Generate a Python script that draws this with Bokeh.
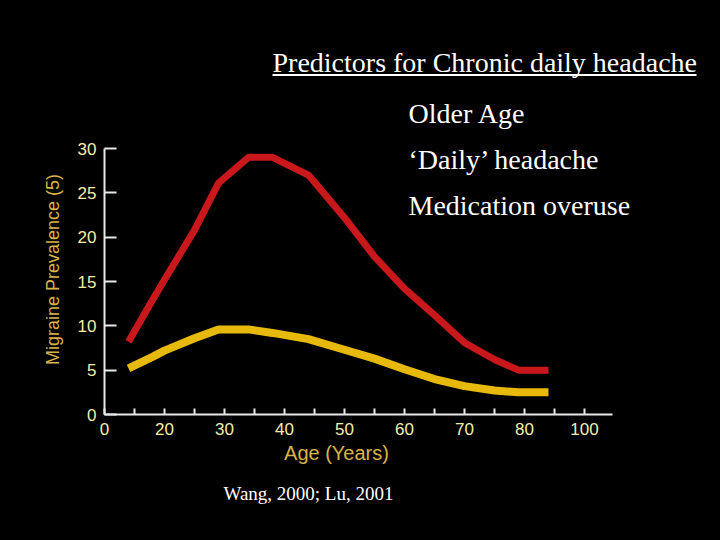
import math
from bokeh.plotting import figure
from bokeh.models import Range1d, FixedTicker, Label, BoxAnnotation, ColumnDataSource
from bokeh.embed import file_html
from bokeh.resources import INLINE

# ---- data ----
ages = [14, 18, 20, 25, 29, 34, 38, 44, 50, 55, 60, 65, 70, 75, 79, 84]
red_prev = [8.2, 12.9, 15.2, 20.8, 26.1, 29.0, 29.0, 27.0, 22.2, 17.8, 14.2, 11.2, 8.1, 6.2, 5.0, 5.0]
yellow_prev = [5.2, 6.5, 7.2, 8.6, 9.6, 9.6, 9.2, 8.5, 7.3, 6.3, 5.1, 4.0, 3.2, 2.7, 2.5, 2.5]

x_ticks = [10, 20, 30, 40, 50, 60, 70, 80, 90]
x_tick_labels = ["0", "20", "30", "40", "50", "60", "70", "80", "100"]
x_minor = [15, 25, 35, 45, 55, 65, 75, 85]
y_ticks = [0, 5, 10, 15, 20, 25, 30]

title_text = "Predictors for Chronic daily headache"
bullets = ["Older Age", "\u2018Daily\u2019 headache", "Medication overuse"]
citation = "Wang, 2000; Lu, 2001"
x_title = "Age (Years)"
y_title = "Migraine Prevalence (5)"

W, H = 720, 540
# plot area on the page: x 104..612 px, y 148..414 px
PX_L, PX_R, PY_T, PY_B = 104, 612, 148, 414
X0, X1, Y0, Y1 = 10, 94.67, 0, 30
kx = (PX_R - PX_L) / (X1 - X0)
ky = (PY_B - PY_T) / (Y1 - Y0)

p = figure(width=W, height=H, output_backend="svg", toolbar_location=None,
           x_range=Range1d(X0 - PX_L / kx, X1 + (W - PX_R) / kx),
           y_range=Range1d(Y0 - (H - PY_B) / ky, Y1 + PY_T / ky),
           min_border=0, min_border_left=0, min_border_right=0,
           min_border_top=0, min_border_bottom=0)
p.background_fill_color = "black"
p.border_fill_color = "black"
p.outline_line_color = None
p.xgrid.visible = False
p.ygrid.visible = False

src = ColumnDataSource(dict(age=ages, red=red_prev, yellow=yellow_prev))
p.line("age", "yellow", source=src, line_color="#e6b90c", line_width=8,
       line_join="round", line_cap="butt")
p.line("age", "red", source=src, line_color="#c8181c", line_width=7,
       line_join="round", line_cap="butt")

tick_lbl_color = "#f2eeaa"
axis_col = "#e8e8e8"

xa = p.xaxis[0]
xa.fixed_location = Y0
xa.bounds = (X0, X1)
xa.ticker = FixedTicker(ticks=x_ticks, minor_ticks=x_minor)
xa.major_label_overrides = {t: l for t, l in zip(x_ticks, x_tick_labels)}
xa.axis_line_color = axis_col
xa.axis_line_width = 2
xa.major_tick_line_color = axis_col
xa.major_tick_line_width = 2
xa.minor_tick_line_color = axis_col
xa.minor_tick_line_width = 2
xa.major_tick_in = 6
xa.major_tick_out = 0
xa.minor_tick_in = 6
xa.minor_tick_out = 0
xa.major_label_standoff = 8
xa.major_label_text_color = tick_lbl_color
xa.major_label_text_font = "Liberation Sans"
xa.major_label_text_font_size = "17px"

ya = p.yaxis[0]
ya.fixed_location = X0
ya.bounds = (Y0, Y1)
ya.ticker = FixedTicker(ticks=y_ticks, minor_ticks=[])
ya.axis_line_color = axis_col
ya.axis_line_width = 2
ya.major_tick_line_color = axis_col
ya.major_tick_line_width = 2
ya.major_tick_in = 12
ya.major_tick_out = 0
ya.minor_tick_in = 0
ya.minor_tick_out = 0
ya.major_label_standoff = 8
ya.major_label_text_color = tick_lbl_color
ya.major_label_text_font = "Liberation Sans"
ya.major_label_text_font_size = "17px"


def sx(X):
    return X


def sy(Y):
    return H - Y


def base(Y, fs):
    # alphabetic baseline renders ~0.37em low; compensate
    return sy(Y - 0.37 * fs)


title_col = "#d8b448"
p.add_layout(Label(x=sx(336), y=sy(452), x_units="screen", y_units="screen",
                   text=x_title, text_align="center", text_baseline="middle",
                   text_color=title_col, text_font="Liberation Sans",
                   text_font_size="20px"))
p.add_layout(Label(x=sx(52), y=sy(269), x_units="screen", y_units="screen",
                   text=y_title, text_align="center", text_baseline="middle",
                   angle=math.pi / 2,
                   text_color=title_col, text_font="Liberation Sans",
                   text_font_size="18px"))

FS_BIG = 28
p.add_layout(Label(x=sx(272), y=base(72, FS_BIG), x_units="screen", y_units="screen",
                   text=title_text, text_align="left", text_baseline="alphabetic",
                   text_color="white", text_font="Liberation Serif",
                   text_font_size=f"{FS_BIG}px"))
p.add_layout(BoxAnnotation(left=sx(272), right=sx(696), top=sy(73.5), bottom=sy(75.5),
                           left_units="screen", right_units="screen",
                           top_units="screen", bottom_units="screen",
                           fill_color="white", fill_alpha=1.0, line_color=None))
for i, b in enumerate(bullets):
    p.add_layout(Label(x=sx(408), y=base(123 + 46 * i, FS_BIG), x_units="screen",
                       y_units="screen",
                       text=b, text_align="left", text_baseline="alphabetic",
                       text_color="white", text_font="Liberation Serif",
                       text_font_size=f"{FS_BIG}px"))
FS_CIT = 19
p.add_layout(Label(x=sx(223), y=base(500, FS_CIT), x_units="screen", y_units="screen",
                   text=citation, text_align="left", text_baseline="alphabetic",
                   text_color="white", text_font="Liberation Serif",
                   text_font_size=f"{FS_CIT}px"))

html = file_html(p, INLINE)
html = html.replace("</head>",
                    "<style>html,body{background:#000000;margin:0;padding:0;overflow:hidden;}</style></head>", 1)
open("out.html", "w").write(html)
